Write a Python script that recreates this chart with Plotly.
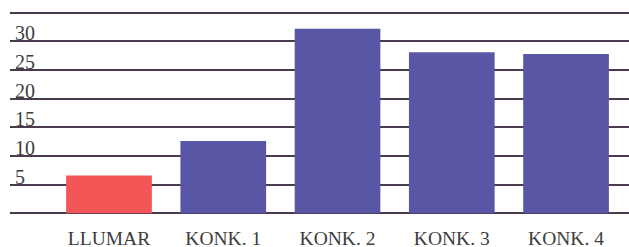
import plotly.graph_objects as go

categories = ["LLUMAR", "KONK. 1", "KONK. 2", "KONK. 3", "KONK. 4"]
values = [6.6, 12.6, 32.2, 28.1, 27.8]
bar_colors = ["#f45557", "#5a56a6", "#5a56a6", "#5a56a6", "#5a56a6"]
y_tick_vals = [0, 5, 10, 15, 20, 25, 30, 35]
y_tick_text = ["", "5", "10", "15", "20", "25", "30", ""]

fig = go.Figure(
    go.Bar(
        x=list(range(len(categories))),
        y=values,
        marker=dict(color=bar_colors, line=dict(width=0)),
        width=0.75,
        hoverinfo="skip",
    )
)

font_family = "Liberation Serif, Times New Roman, serif"

fig.update_layout(
    width=629,
    height=247,
    margin=dict(l=10, r=0, t=11, b=32),
    paper_bgcolor="white",
    plot_bgcolor="white",
    showlegend=False,
    font=dict(family=font_family, color="#3c3c3c"),
)

fig.update_xaxes(
    range=[-0.8665, 4.551],
    tickvals=list(range(len(categories))),
    ticktext=categories,
    tickfont=dict(size=19.5, color="#3c3c3c", family=font_family),
    showgrid=False,
    zeroline=False,
    showline=False,
    ticks="",
    ticklabelstandoff=9,
    automargin=False,
)

fig.update_yaxes(
    range=[-0.3, 35.3],
    tickvals=y_tick_vals,
    ticktext=y_tick_text,
    tickfont=dict(size=20, color="#3c3c3c", family=font_family),
    showgrid=True,
    gridcolor="#4a3a4e",
    gridwidth=2,
    zeroline=False,
    showline=False,
    ticks="",
    ticklabelposition="inside",
    ticklabelshift=-8,
    ticklabelstandoff=2,
    automargin=False,
)

fig.write_html(
    "out.html",
    config={"displayModeBar": False},
    post_script="document.body.style.margin='0';document.body.style.overflow='hidden';",
)
